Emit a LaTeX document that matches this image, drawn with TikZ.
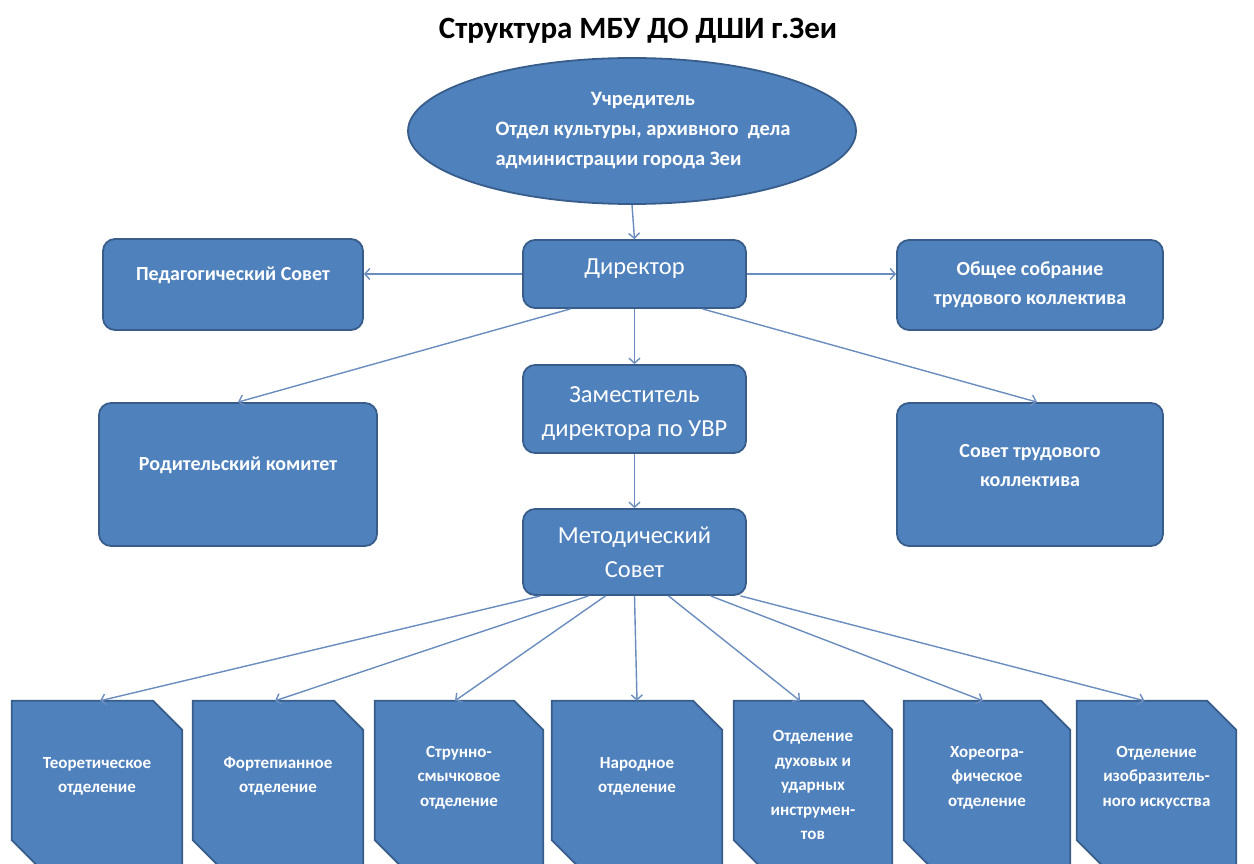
\documentclass[tikz,border=0pt]{standalone}
\usepackage{fontspec}
\setmainfont{Carlito}
\usepackage{xcolor}
\usepackage{tikz}
\usetikzlibrary{arrows.meta,positioning,shapes.geometric,backgrounds}

\definecolor{boxblue}{HTML}{4F81BD}
\definecolor{boxline}{HTML}{385D8A}
\definecolor{linkblue}{HTML}{6A8CBE}
% invisible depth, lifts the text in a node
\newcommand{\textlift}[1]{\rule[-#1]{0pt}{#1}}

\begin{document}
\begin{tikzpicture}[
			x=1pt, y=-1pt,
			unit/.style={draw=boxline, fill=boxblue, line width=1.8pt, rounded corners=12pt, text=white, align=center, inner sep=3pt},
			boldtext/.style={font=\bfseries\fontsize{20}{29}\selectfont},
			plaintext/.style={font=\fontsize{24.5}{34}\selectfont},
			dept/.style={text=white, align=center, minimum height=168, inner sep=2pt, font=\bfseries\fontsize{17}{24.5}\selectfont},
			deptshape/.style={draw=boxline, fill=boxblue, line width=1.8pt},
			link/.style={draw=linkblue, line width=1.4pt, -{Straight Barb[length=5pt,width=11pt]}}
			]
			\useasboundingbox (0,0) rectangle (1254,864);
			% Title
			\node[font=\bfseries\fontsize{31}{36}\selectfont] (title) at (638,31) {Структура МБУ ДО ДШИ г.Зеи};
			% Founder
			\node[ellipse, draw=boxline, fill=boxblue, line width=1.8pt, minimum width=439, minimum height=146, inner sep=0pt, text=white, font=\bfseries\fontsize{20.5}{24}\selectfont] (founder) at (632,131)
				{\hspace*{22pt}\begin{tabular}{@{}l@{}}\multicolumn{1}{@{}c@{}}{Учредитель}\\[6pt]Отдел культуры, архивного\ \ дела\\[6pt]администрации города Зеи\end{tabular}};
			% Administration
			\node[unit, plaintext, minimum width=223, minimum height=68] (director) at (634.5,274) {Директор\textlift{14pt}};
			\node[unit, plaintext, minimum width=223, minimum height=88] (deputy) at (634.5,409) {\rule{0pt}{26pt}Заместитель\\директора по УВР};
			\node[unit, plaintext, minimum width=223, minimum height=86] (method) at (634.5,552) {Методический\\Совет};
			% Councils
			\node[unit, boldtext, minimum width=260, minimum height=91] (pedcouncil) at (233,284.5) {Педагогический Совет\textlift{21pt}};
			\node[unit, boldtext, minimum width=266, minimum height=90] (assembly) at (1030,285) {Общее собрание\\трудового коллектива};
			\node[unit, boldtext, minimum width=278, minimum height=143] (parents) at (238,474.5) {Родительский комитет\textlift{21pt}};
			\node[unit, boldtext, minimum width=266, minimum height=143] (staffcouncil) at (1030,474.5) {Совет трудового\\коллектива\textlift{18pt}};
			% Departments
			\node[dept, minimum width=170] (d1) at (97,785) {Теоретическое\\отделение\textlift{20pt}};
			\node[dept, minimum width=170] (d2) at (278,785) {Фортепианное\\отделение\textlift{20pt}};
			\node[dept, minimum width=168] (d3) at (459,785) {Струнно-\\смычковое\\отделение\textlift{18pt}};
			\node[dept, minimum width=170] (d4) at (637,785) {Народное\\отделение\textlift{20pt}};
			\node[dept, minimum width=158] (d5) at (813,785) {Отделение\\духовых и\\ударных\\инструмен-\\тов};
			\node[dept, minimum width=166] (d6) at (987,785) {Хореогра-\\фическое\\отделение\textlift{18pt}};
			\node[dept, minimum width=159] (d7) at (1156.5,785) {Отделение\\изобразитель-\\ного искусства\textlift{18pt}};
			\begin{scope}[on background layer]
				\foreach \i in {1,...,7}
					\draw[deptshape] (d\i.north west) -- ([xshift=-29]d\i.north east) -- ([yshift=-29]d\i.north east)
						-- (d\i.south east) -- ([xshift=29]d\i.south west) -- ([yshift=29]d\i.south west) -- cycle;
			\end{scope}
			% Connectors
			\draw[link] (founder.south) -- (director.north);
			\draw[link] (director.west) -- (pedcouncil.east |- director.west);
			\draw[link] (director.east) -- (assembly.west |- director.east);
			\draw[link] (director.south) -- (deputy.north);
			\draw[link] ([xshift=-64]director.south) -- (parents.north);
			\draw[link] ([xshift=68]director.south) -- ([xshift=7]staffcouncil.north);
			\draw[link] (deputy.south) -- (method.north);
			\draw[link] ([xshift=-94]method.south) -- ([xshift=3]d1.north);
			\draw[link] ([xshift=-46]method.south) -- ([xshift=-3]d2.north);
			\draw[link] ([xshift=-29]method.south) -- ([xshift=-4]d3.north);
			\draw[link] (method.south) -- (d4.north);
			\draw[link] ([xshift=34]method.south) -- ([xshift=-13]d5.north);
			\draw[link] ([xshift=76]method.south) -- ([xshift=-4]d6.north);
			\draw[link] ([xshift=106]method.south) -- ([xshift=-12]d7.north);
		\end{tikzpicture}
\end{document}
